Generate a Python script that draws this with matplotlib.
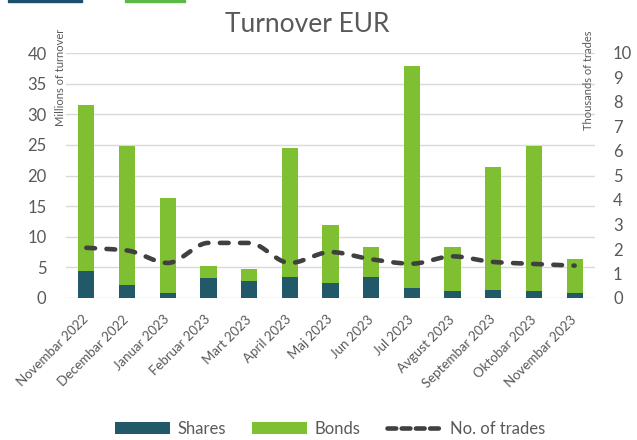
import numpy as np
import matplotlib
matplotlib.use("Agg")
import matplotlib.pyplot as plt
from matplotlib.patches import Rectangle, Patch
from matplotlib.lines import Line2D

plt.rcParams['font.family'] = ['Lato', 'DejaVu Sans']

months = ["Novembar 2022", "Decembar 2022", "Januar 2023", "Februar 2023",
          "Mart 2023", "April 2023", "Maj 2023", "Jun 2023", "Jul 2023",
          "Avgust 2023", "Septembar 2023", "Oktobar 2023", "Novembar 2023"]
shares = [4.4, 2.2, 0.8, 3.3, 2.8, 3.4, 2.4, 3.5, 1.6, 1.15, 1.3, 1.15, 0.8]
bonds = [27.1, 22.6, 15.45, 2.0, 2.0, 21.1, 9.45, 4.9, 36.3, 7.25, 20.1, 23.65, 5.55]
trades = [2.05, 1.94, 1.43, 2.25, 2.25, 1.43, 1.875, 1.58, 1.40, 1.70, 1.47, 1.39, 1.32]

left_ticks = [0, 5, 10, 15, 20, 25, 30, 35, 40]
right_ticks = [0, 1, 2, 3, 4, 5, 6, 7, 8, 9, 10]

C_SHARES = '#215968'
C_BONDS = '#7FBF32'
C_LINE = '#404040'
C_TEXT = '#595959'
C_GRID = '#D9D9D9'

W, H = 637, 440
fig = plt.figure(figsize=(W / 100, H / 100), dpi=100)

# decorative logo strips at top edge
fig.patches.append(Rectangle((8 / W, 1 - 2 / H), 74 / W, 2 / H, transform=fig.transFigure,
                             color='#1B4F6C', zorder=0))
fig.patches.append(Rectangle((125 / W, 1 - 2 / H), 60 / W, 2 / H, transform=fig.transFigure,
                             color='#5DB946', zorder=0))

ax = fig.add_axes([66 / W, 1 - 298 / H, 529 / W, 245 / H])
x = np.arange(len(months))
bw = 0.4
ax.bar(x, shares, bw, color=C_SHARES, zorder=3)
ax.bar(x, bonds, bw, bottom=shares, color=C_BONDS, zorder=3)
ax.set_xlim(-0.5, len(months) - 0.5)
ax.set_ylim(0, 40)
ax.set_yticks(left_ticks)
ax.set_xticks(x)
ax.set_xticklabels(months, rotation=45, ha='right', va='center', rotation_mode='anchor')
ax.grid(axis='y', color=C_GRID, lw=1.0, zorder=0)
ax.set_axisbelow(True)
for s in ax.spines.values():
    s.set_visible(False)
ax.tick_params(axis='y', length=0, pad=14, labelsize=12, labelcolor=C_TEXT)
ax.tick_params(axis='x', length=0, pad=14, labelsize=9.5, labelcolor=C_TEXT)

ax2 = ax.twinx()
ax2.set_ylim(0, 10)
ax2.set_yticks(right_ticks)
for s in ax2.spines.values():
    s.set_visible(False)
ax2.tick_params(axis='y', length=0, pad=13, labelsize=12, labelcolor=C_TEXT)


def pchip_curve(xv, yv, n=30):
    """Monotone cubic (Fritsch-Carlson) smoothing through the data points."""
    xv = np.asarray(xv, float)
    yv = np.asarray(yv, float)
    h = np.diff(xv)
    d = np.diff(yv) / h
    m = np.zeros_like(yv)
    m[0], m[-1] = d[0], d[-1]
    for i in range(1, len(yv) - 1):
        if d[i - 1] * d[i] <= 0:
            m[i] = 0.0
        else:
            w1 = 2 * h[i] + h[i - 1]
            w2 = h[i] + 2 * h[i - 1]
            m[i] = (w1 + w2) / (w1 / d[i - 1] + w2 / d[i])
    xs, ys = [xv[0]], [yv[0]]
    for i in range(len(xv) - 1):
        t = np.linspace(0, 1, n)[1:]
        h00 = 2 * t ** 3 - 3 * t ** 2 + 1
        h10 = t ** 3 - 2 * t ** 2 + t
        h01 = -2 * t ** 3 + 3 * t ** 2
        h11 = t ** 3 - t ** 2
        xs.extend(xv[i] + t * h[i])
        ys.extend(h00 * yv[i] + h10 * h[i] * m[i] + h01 * yv[i + 1] + h11 * h[i] * m[i + 1])
    return np.array(xs), np.array(ys)


sx, sy = pchip_curve(x, trades)
ax2.plot(sx, sy, color=C_LINE, lw=3.3, dashes=(1.9, 2.5), dash_capstyle='round', zorder=4)

fig.text(307 / W, 1 - 24 / H, "Turnover EUR", ha='center', va='center',
         fontsize=19, color=C_TEXT)
fig.text(60 / W, 1 - 29 / H, "Millions of turnover", rotation=90, ha='center', va='top',
         fontsize=8, color=C_TEXT)
fig.text(589 / W, 1 - 31 / H, "Thousands of trades", rotation=90, ha='center', va='top',
         fontsize=8, color=C_TEXT)

handles = [Patch(facecolor=C_SHARES, edgecolor='none'),
           Patch(facecolor=C_BONDS, edgecolor='none'),
           Line2D([0], [0], color=C_LINE, lw=3.3, dashes=(1.9, 1.2), dash_capstyle='round')]
fig.legend(handles, ["Shares", "Bonds", "No. of trades"], loc='center',
           bbox_to_anchor=(330 / W, 11 / H), ncol=3, frameon=False, fontsize=12,
           labelcolor=C_TEXT, handlelength=3.3, handleheight=0.7,
           handletextpad=0.45, columnspacing=1.6)

fig.savefig("out.png", dpi=100)
